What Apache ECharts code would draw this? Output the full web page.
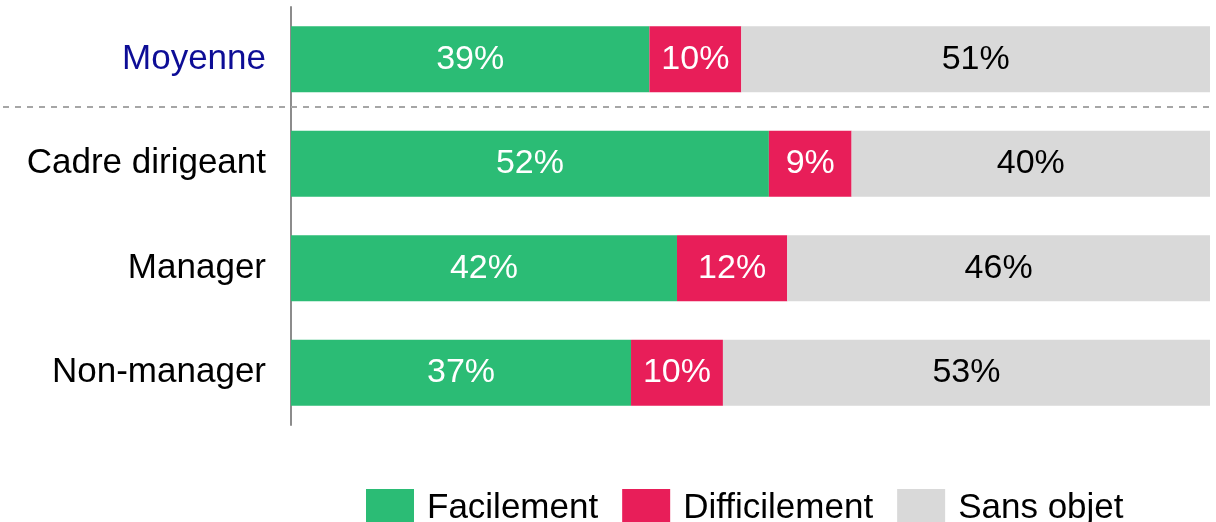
<!DOCTYPE html>
<html>
<head>
<meta charset="utf-8">
<script src="https://cdn.jsdelivr.net/npm/echarts@6/dist/echarts.min.js"></script>
<style>
  html, body { margin: 0; padding: 0; background: #fff; }
  #chart { width: 1216px; height: 522px; }
</style>
</head>
<body>
<div id="chart"></div>
<script>
// Groups shown on the vertical axis, top to bottom
const categories = ['Moyenne', 'Cadre dirigeant', 'Manager', 'Non-manager'];

// Share of answers per group (%)
const facilement = [39, 52, 42, 37];
const difficilement = [10, 9, 12, 10];
const sansObjet = [51, 40, 46, 53];

const seriesNames = ['Facilement', 'Difficilement', 'Sans objet'];
const seriesColors = ['#2bbc75', '#e81e59', '#d9d9d9'];
const labelColors = ['#ffffff', '#ffffff', '#000000'];

const FONT = '"Liberation Sans", Arial, Helvetica, sans-serif';

const chart = echarts.init(document.getElementById('chart'), null, { renderer: 'canvas' });

function makeSeries(name, data, i) {
  return {
    name: name,
    type: 'bar',
    stack: 'total',
    barWidth: 66,
    data: data,
    itemStyle: { color: seriesColors[i] },
    label: {
      show: true,
      position: 'inside',
      formatter: '{c}%',
      color: labelColors[i],
      fontFamily: FONT,
      fontSize: 34
    },
    emphasis: { disabled: true }
  };
}

chart.setOption({
  animation: false,
  grid: { left: 291, right: 6, top: 7, bottom: 97, containLabel: false },
  legend: {
    data: seriesNames,
    left: 361,
    top: 484,
    itemWidth: 48,
    itemHeight: 38,
    itemGap: 24,
    icon: 'rect',
    textStyle: { fontFamily: FONT, fontSize: 35, color: '#000', padding: [0, 0, 0, 8] }
  },
  xAxis: {
    type: 'value',
    min: 0,
    max: 100,
    show: false
  },
  yAxis: {
    type: 'category',
    data: categories,
    inverse: true,
    axisLine: { show: true, lineStyle: { color: '#8c8c8c', width: 2 } },
    axisTick: { show: false },
    axisLabel: {
      margin: 25,
      fontFamily: FONT,
      fontSize: 35,
      color: function (value, index) {
        return index === 0 ? '#0d0d96' : '#000000';
      }
    }
  },
  graphic: [{
    type: 'line',
    shape: { x1: 3, y1: 107, x2: 1210, y2: 107 },
    style: { stroke: '#a6a6a6', lineWidth: 2, lineDash: [6, 6] },
    z: 10
  }],
  series: [
    makeSeries(seriesNames[0], facilement, 0),
    makeSeries(seriesNames[1], difficilement, 1),
    makeSeries(seriesNames[2], sansObjet, 2)
  ]
});
</script>
</body>
</html>
